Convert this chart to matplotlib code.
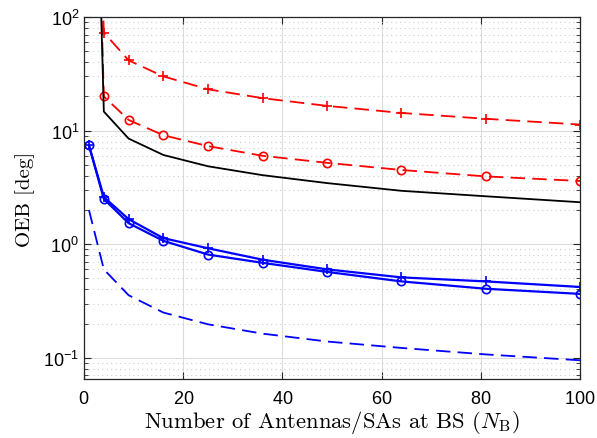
import matplotlib
matplotlib.use("Agg")
import matplotlib.pyplot as plt
from matplotlib.ticker import LogLocator, NullFormatter

plt.rcParams['font.family'] = ['Liberation Sans', 'DejaVu Sans']
plt.rcParams['mathtext.fontset'] = 'cm'
plt.rcParams['axes.formatter.use_mathtext'] = True

N_B = [1, 4, 9, 16, 25, 36, 49, 64, 81, 100]

red_plus = [1e6, 73, 41.5, 30, 23.1, 19.3, 16.5, 14.3, 12.7, 11.3]
red_circ = [1e6, 20, 12.4, 9.1, 7.3, 6.0, 5.2, 4.5, 3.95, 3.6]
black = [1e6, 14.7, 8.5, 6.1, 4.85, 4.05, 3.45, 2.95, 2.64, 2.34]
blue_plus = [7.4, 2.6, 1.66, 1.13, 0.92, 0.73, 0.6, 0.51, 0.47, 0.42]
blue_circ = [7.4, 2.5, 1.53, 1.07, 0.81, 0.685, 0.57, 0.47, 0.405, 0.365]
blue_dash = [2.0, 0.6, 0.355, 0.25, 0.197, 0.163, 0.139, 0.122, 0.107, 0.095]

fig = plt.figure(figsize=(5.97, 4.39), dpi=100)
ax = fig.add_axes([0.1407, 0.1344, 0.8308, 0.8246])

dash = (0, (8, 4))
ax.plot(N_B, red_plus, color='#ff0000', ls=dash, lw=1.3, marker='+', ms=7, mew=1.2)
ax.plot(N_B, red_circ, color='#ff0000', ls=dash, lw=1.3, marker='o', ms=6, mfc='none', mew=1.2)
ax.plot(N_B, black, color='black', ls='-', lw=1.3)
ax.plot(N_B, blue_plus, color='#0000ff', ls='-', lw=1.6, marker='+', ms=7, mew=1.2)
ax.plot(N_B, blue_circ, color='#0000ff', ls='-', lw=1.6, marker='o', ms=6, mfc='none', mew=1.2)
ax.plot(N_B, blue_dash, color='#0000ff', ls=dash, lw=1.3)

ax.set_yscale('log')
ax.set_xlim(0, 100)
ax.set_ylim(0.065, 100)
ax.set_xticks([0, 20, 40, 60, 80, 100])
ax.yaxis.set_major_locator(LogLocator(base=10, numticks=10))
ax.yaxis.set_minor_locator(LogLocator(base=10, subs=range(2, 10), numticks=20))
ax.yaxis.set_minor_formatter(NullFormatter())

ax.grid(True, which='major', color='#dcdcdc', lw=0.8, ls='-')
ax.grid(True, which='minor', axis='y', color='#cccccc', lw=0.8, ls=(0, (1, 3)))
ax.set_axisbelow(True)

for s in ax.spines.values():
    s.set_color('#262626')
    s.set_linewidth(0.9)
ax.tick_params(which='both', direction='in', top=True, right=True, colors='#262626', labelsize=13, labelcolor='black')
ax.tick_params(which='major', length=5, width=0.8)
ax.tick_params(which='minor', length=3, width=0.6)
ax.tick_params(axis='x', pad=8)

ax.set_xlabel(r'Number of Antennas/SAs at BS ($N_{\mathrm{B}}$)', family='cmr10', fontsize=16.3, labelpad=1)
ax.set_ylabel('OEB [deg]', family='cmr10', fontsize=15, labelpad=6)

fig.savefig('out.png', dpi=100)
